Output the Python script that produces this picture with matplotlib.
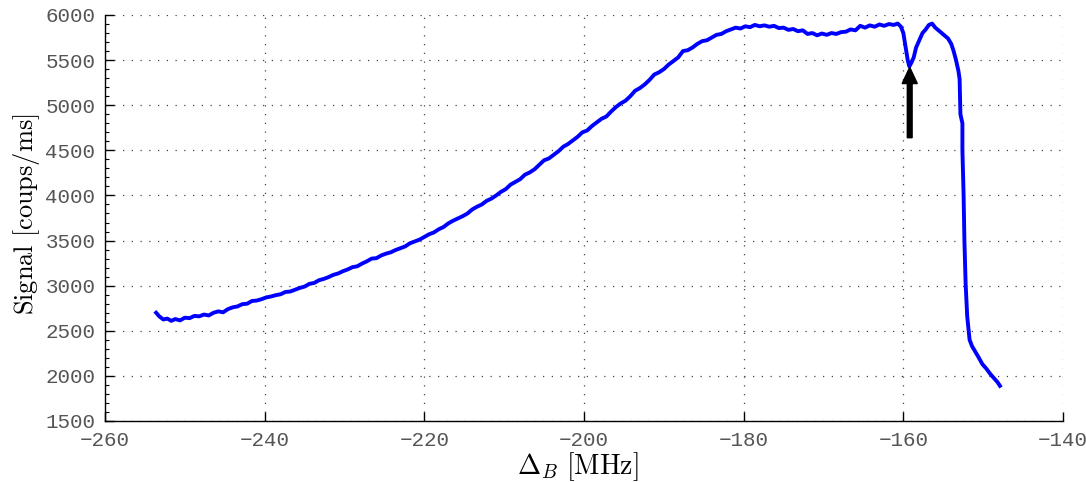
import numpy as np
import matplotlib
matplotlib.use("Agg")
import matplotlib.pyplot as plt
from matplotlib.ticker import MultipleLocator

# detuning (MHz) and signal (coups/ms)
delta_b = [
    -253.6, -253.2, -252.7, -252.2, -251.7, -251.2, -250.6, -250.0, -249.4, -248.8,
    -248.2, -247.6, -247.0, -246.4, -245.8, -245.2, -244.6, -244.0, -243.4, -242.8,
    -242.2, -241.6, -241.0, -240.4, -239.8, -239.2, -238.6, -238.0, -237.4, -236.8,
    -236.2, -235.6, -235.0, -234.4, -233.8, -233.2, -232.6, -232.0, -231.4, -230.8,
    -230.2, -229.6, -229.0, -228.4, -227.8, -227.2, -226.6, -226.0, -225.4, -224.8,
    -224.2, -223.6, -223.0, -222.4, -221.8, -221.2, -220.6, -220.0, -219.4, -218.8,
    -218.2, -217.6, -217.0, -216.4, -215.8, -215.2, -214.6, -214.0, -213.4, -212.8,
    -212.2, -211.6, -211.0, -210.4, -209.8, -209.2, -208.6, -208.0, -207.4, -206.8,
    -206.2, -205.6, -205.0, -204.4, -203.8, -203.2, -202.6, -202.0, -201.4, -200.8,
    -200.2, -199.6, -199.0, -198.4, -197.8, -197.2, -196.6, -196.0, -195.4, -194.8,
    -194.2, -193.6, -193.0, -192.4, -191.8, -191.2, -190.6, -190.0, -189.4, -188.8,
    -188.2, -187.6, -187.0, -186.4, -185.8, -185.2, -184.6, -184.0, -183.4, -182.8,
    -182.2, -181.6, -181.0, -180.4, -179.8, -179.2, -178.6, -178.0, -177.4, -176.8,
    -176.2, -175.6, -175.0, -174.4, -173.8, -173.2, -172.6, -172.0, -171.4, -170.8,
    -170.2, -169.6, -169.0, -168.4, -167.8, -167.2, -166.6, -166.0, -165.4, -164.8,
    -164.2, -163.6, -163.0, -162.4, -161.8, -161.2, -160.7, -160.3, -160.0, -159.8,
    -159.6, -159.45, -159.25, -159.0, -158.7, -158.4, -158.0, -157.6, -157.2, -156.8,
    -156.4, -156.0, -155.6, -155.2, -154.8, -154.4, -154.0, -153.7, -153.4, -153.1,
    -152.95, -152.9, -152.85, -152.6, -152.6, -152.45, -152.35, -152.2, -152.0, -151.7,
    -151.4, -151.0, -150.6, -150.1, -149.6, -149.1, -148.6, -148.2, -147.9,
]
signal = [
    2700, 2660, 2625, 2635, 2610, 2630, 2615, 2645, 2640, 2665,
    2660, 2680, 2670, 2700, 2715, 2705, 2740, 2760, 2770, 2795,
    2800, 2830, 2835, 2850, 2870, 2880, 2895, 2905, 2930, 2935,
    2955, 2975, 2990, 3020, 3030, 3060, 3075, 3095, 3120, 3135,
    3160, 3180, 3205, 3215, 3245, 3270, 3300, 3305, 3335, 3355,
    3370, 3395, 3415, 3435, 3470, 3490, 3510, 3540, 3570, 3590,
    3625, 3650, 3690, 3720, 3745, 3770, 3800, 3845, 3875, 3900,
    3940, 3965, 4000, 4040, 4070, 4120, 4150, 4180, 4230, 4255,
    4290, 4340, 4390, 4410, 4450, 4490, 4540, 4570, 4610, 4650,
    4700, 4720, 4770, 4810, 4850, 4875, 4930, 4980, 5020, 5050,
    5100, 5160, 5190, 5230, 5280, 5340, 5365, 5400, 5450, 5490,
    5530, 5600, 5610, 5640, 5680, 5710, 5720, 5750, 5780, 5790,
    5820, 5840, 5860, 5850, 5875, 5865, 5890, 5875, 5885, 5870,
    5880, 5855, 5860, 5835, 5845, 5820, 5830, 5790, 5800, 5775,
    5795, 5780, 5800, 5790, 5810, 5815, 5840, 5830, 5880, 5860,
    5885, 5870, 5895, 5880, 5900, 5890, 5905, 5870, 5800, 5690,
    5580, 5500, 5430, 5470, 5530, 5640, 5720, 5800, 5840, 5890,
    5905, 5860, 5830, 5800, 5770, 5740, 5680, 5600, 5500, 5380,
    5290, 5100, 4900, 4800, 4500, 4000, 3500, 3030, 2660, 2400,
    2330, 2270, 2210, 2130, 2080, 2020, 1970, 1930, 1890,
]

x_ticks = np.arange(-260, -139, 20)
y_ticks = np.arange(1500, 6001, 500)

# arrow marking the dip
arrow_x = -159.2
arrow_y0, arrow_y1 = 4640, 5420

plt.rcParams['mathtext.fontset'] = 'cm'

fig = plt.figure(figsize=(10.86, 4.82), dpi=100)
ax = fig.add_axes([105 / 1086, 1 - 421 / 482, 958 / 1086, 406 / 482])

ax.plot(delta_b, signal, color='#0000ff', lw=2.8, solid_joinstyle='round')

ax.arrow(arrow_x, arrow_y0, 0, arrow_y1 - arrow_y0, width=0.6, head_width=1.9,
         head_length=180, length_includes_head=True, color='black', zorder=3)

ax.set_xlim(-260, -140)
ax.set_ylim(1500, 6000)
ax.set_xticks(x_ticks)
ax.set_yticks(y_ticks)
ax.yaxis.set_minor_locator(MultipleLocator(100))

for s in ['top', 'right']:
    ax.spines[s].set_visible(False)
for s in ['left', 'bottom']:
    ax.spines[s].set_linewidth(1.0)

ax.tick_params(which='major', direction='in', length=6.5, width=1.0, pad=7,
               labelsize=15, labelcolor='#555555')
ax.tick_params(which='minor', direction='in', length=3, width=0.8)
for lab in ax.get_xticklabels() + ax.get_yticklabels():
    lab.set_family('Liberation Mono')

ax.grid(True, which='major', linestyle=(0, (1, 6)), color='#444444', lw=0.9)

ax.set_xlabel(r'$\Delta_B\ \mathrm{[MHz]}$', fontsize=20)
ax.set_ylabel(r'$\mathrm{Signal\ [coups/ms]}$', fontsize=19)
ax.xaxis.set_label_coords(0.494, -0.072)
ax.yaxis.set_label_coords(-0.066, 0.51)

fig.savefig('out.png', dpi=100)
